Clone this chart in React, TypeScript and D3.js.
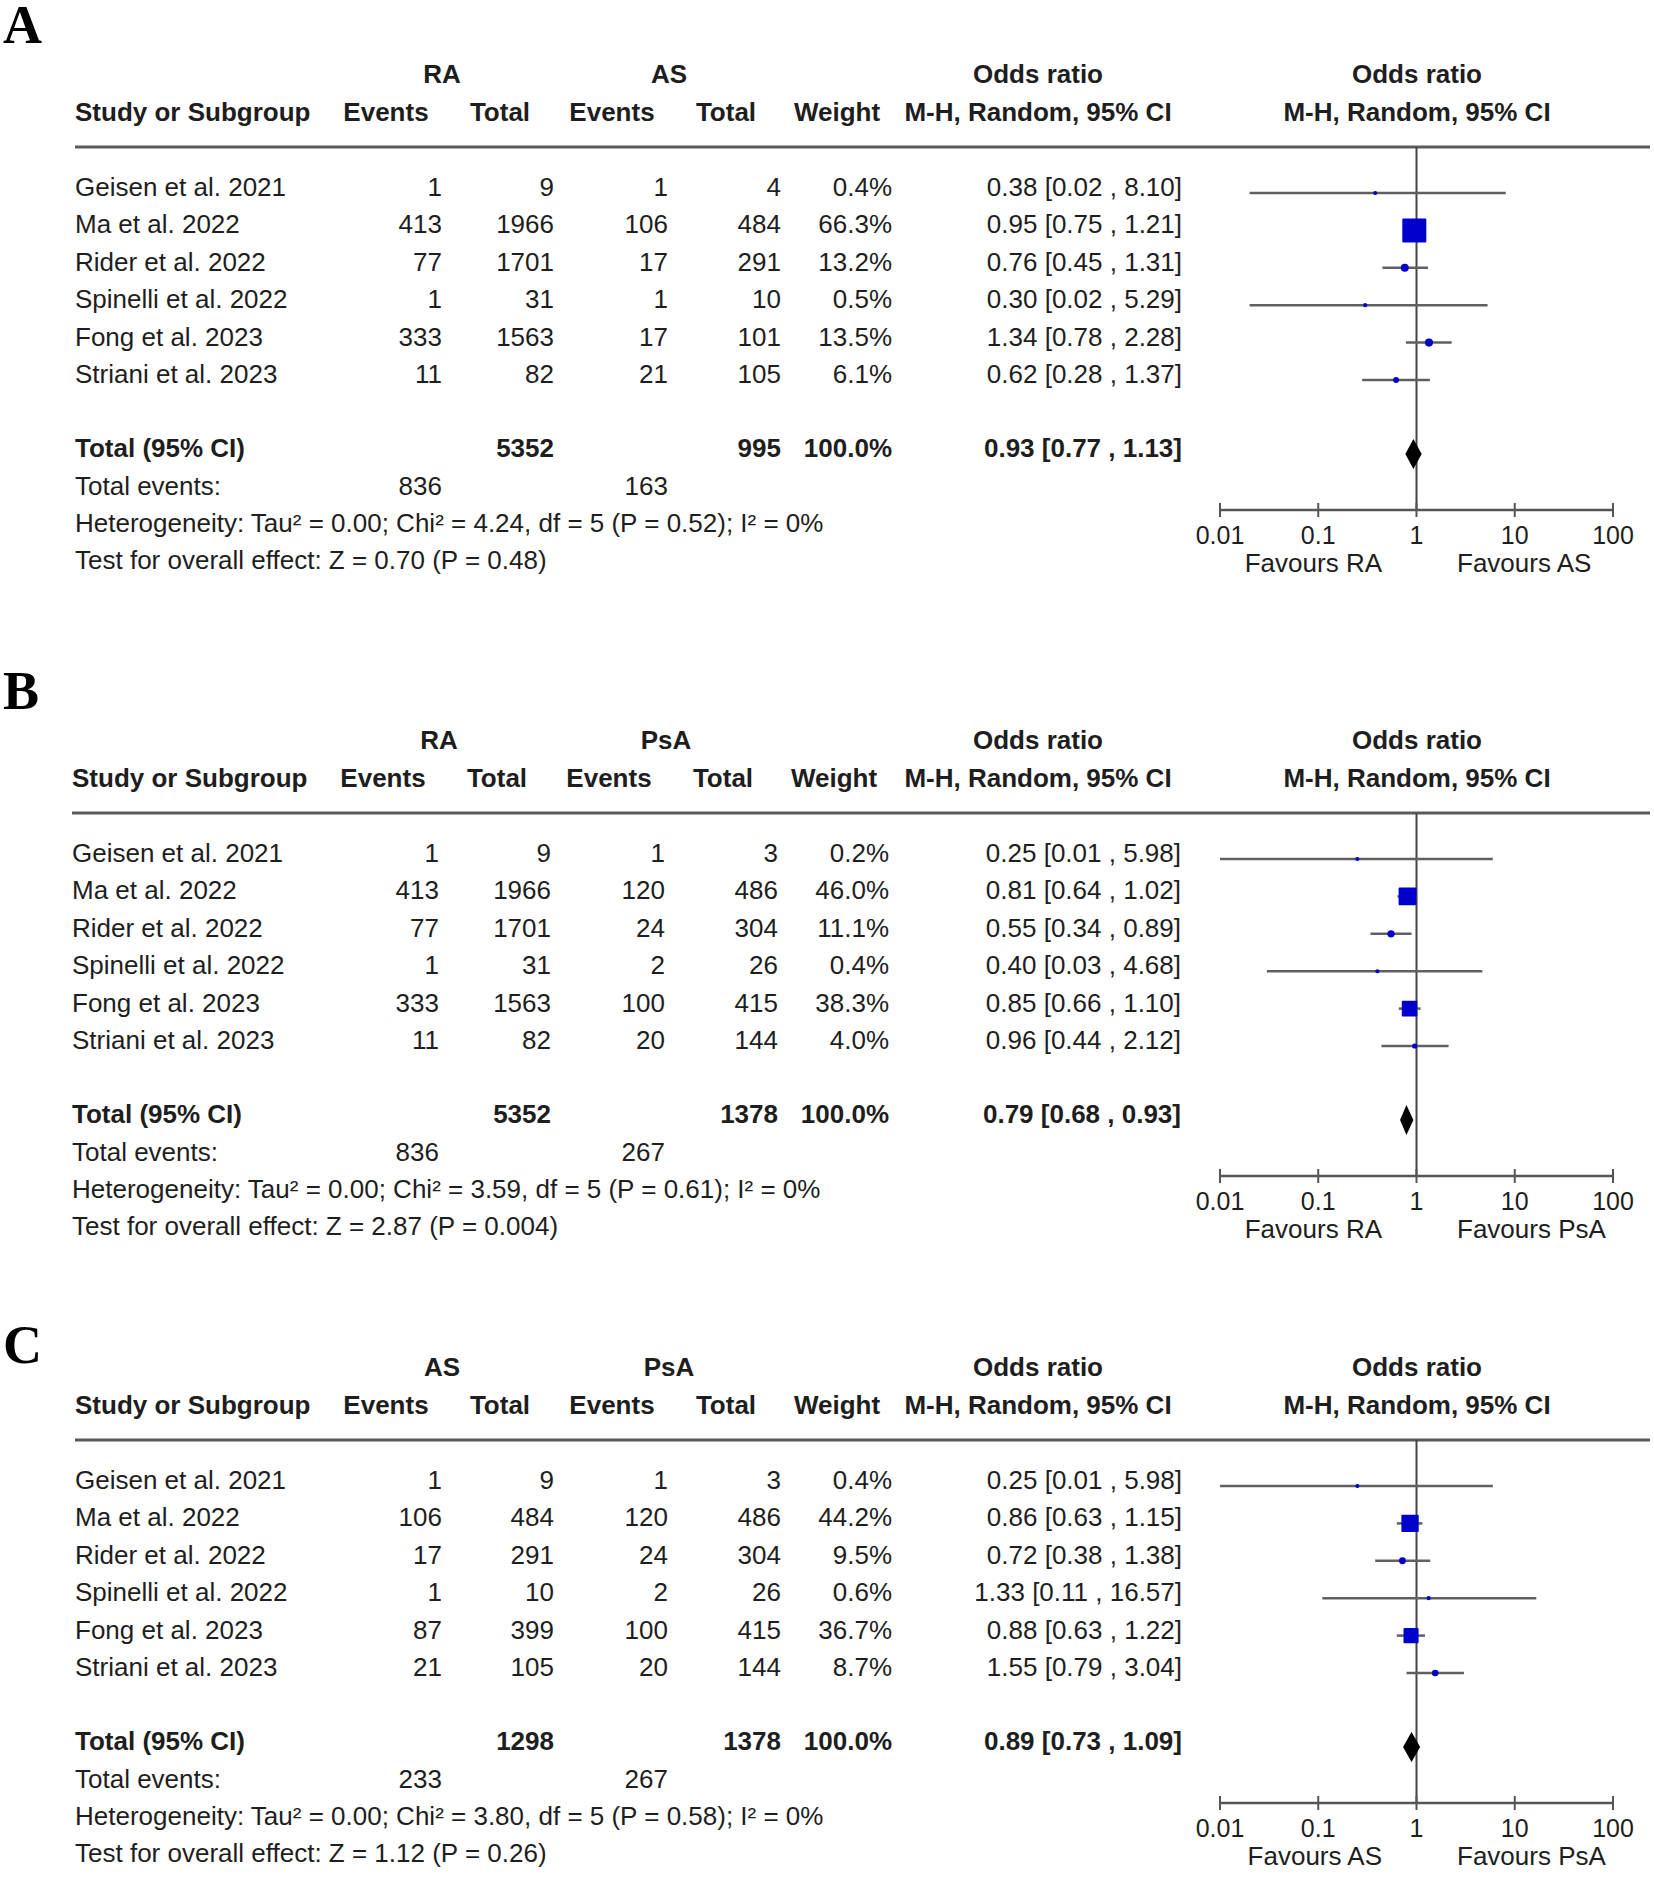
import React from 'react';
import * as d3 from 'd3';

// ---- data ----
const studies = [
  'Geisen et al. 2021',
  'Ma et al. 2022',
  'Rider et al. 2022',
  'Spinelli et al. 2022',
  'Fong et al. 2023',
  'Striani et al. 2023',
];
const panelLabels = ['A', 'B', 'C'];
const groupNames = [['RA', 'AS'], ['RA', 'PsA'], ['AS', 'PsA']];

// Panel A: RA vs AS
const eventsA1 = [1, 413, 77, 1, 333, 11];
const totalA1 = [9, 1966, 1701, 31, 1563, 82];
const eventsA2 = [1, 106, 17, 1, 17, 21];
const totalA2 = [4, 484, 291, 10, 101, 105];
const weightA = [0.4, 66.3, 13.2, 0.5, 13.5, 6.1];
const orA = [0.38, 0.95, 0.76, 0.3, 1.34, 0.62];
const lowA = [0.02, 0.75, 0.45, 0.02, 0.78, 0.28];
const highA = [8.1, 1.21, 1.31, 5.29, 2.28, 1.37];

// Panel B: RA vs PsA
const eventsB1 = [1, 413, 77, 1, 333, 11];
const totalB1 = [9, 1966, 1701, 31, 1563, 82];
const eventsB2 = [1, 120, 24, 2, 100, 20];
const totalB2 = [3, 486, 304, 26, 415, 144];
const weightB = [0.2, 46.0, 11.1, 0.4, 38.3, 4.0];
const orB = [0.25, 0.81, 0.55, 0.4, 0.85, 0.96];
const lowB = [0.01, 0.64, 0.34, 0.03, 0.66, 0.44];
const highB = [5.98, 1.02, 0.89, 4.68, 1.1, 2.12];

// Panel C: AS vs PsA
const eventsC1 = [1, 106, 17, 1, 87, 21];
const totalC1 = [9, 484, 291, 10, 399, 105];
const eventsC2 = [1, 120, 24, 2, 100, 20];
const totalC2 = [3, 486, 304, 26, 415, 144];
const weightC = [0.4, 44.2, 9.5, 0.6, 36.7, 8.7];
const orC = [0.25, 0.86, 0.72, 1.33, 0.88, 1.55];
const lowC = [0.01, 0.63, 0.38, 0.11, 0.63, 0.79];
const highC = [5.98, 1.15, 1.38, 16.57, 1.22, 3.04];

// pooled results per panel (A, B, C)
const pooledN1 = [5352, 5352, 1298];
const pooledN2 = [995, 1378, 1378];
const pooledEvents1 = [836, 836, 233];
const pooledEvents2 = [163, 267, 267];
const pooledOR = [0.93, 0.79, 0.89];
const pooledLow = [0.77, 0.68, 0.73];
const pooledHigh = [1.13, 0.93, 1.09];
const tau2 = [0.0, 0.0, 0.0];
const chi2 = [4.24, 3.59, 3.8];
const dfs = [5, 5, 5];
const pHet = ['0.52', '0.61', '0.58'];
const i2 = [0, 0, 0];
const zVals = [0.7, 2.87, 1.12];
const pZ = ['0.48', '0.004', '0.26'];

const axisTicks = [0.01, 0.1, 1, 10, 100];
const axisTickLabels = ['0.01', '0.1', '1', '10', '100'];

// ---- layout ----
const W = 1654;
const H = 1880;
const panelTop = [0, 666, 1293];
const panelLetterY = [43, 709, 1363];
const panelDx = [0, -3, 0];
const FONT = '"Liberation Sans", Arial, Helvetica, sans-serif';
const TXT = '#1e1e1e';
const BLUE = '#0000cc';

const x = d3.scaleLog().domain([0.01, 100]).range([1220, 1613]);

const fmt2 = (v: number) => v.toFixed(2);
const ciText = (o: number, l: number, h: number) => `${fmt2(o)} [${fmt2(l)} , ${fmt2(h)}]`;

const panels = [
  { e1: eventsA1, n1: totalA1, e2: eventsA2, n2: totalA2, w: weightA, or: orA, lo: lowA, hi: highA },
  { e1: eventsB1, n1: totalB1, e2: eventsB2, n2: totalB2, w: weightB, or: orB, lo: lowB, hi: highB },
  { e1: eventsC1, n1: totalC1, e2: eventsC2, n2: totalC2, w: weightC, or: orC, lo: lowC, hi: highC },
];

const rowY = d3.scaleLinear().domain([0, 5]).range([196, 383]);
const markSize = d3.scaleLinear().domain([0, 66.3]).range([4, 24]);

const Panel: React.FC<{ k: number }> = ({ k }) => {
  const p = panels[k];
  const dx = panelDx[k];
  const cols = {
    study: 75 + dx,
    e1: 442 + dx,
    n1: 554 + dx,
    e2: 668 + dx,
    n2: 781 + dx,
    w: 892 + dx,
    ci: 1182 + (dx ? -1 : 0),
  };
  const axisY = 510;
  const totalY = 457;
  const markOff = -3;
  const txt = { fontFamily: FONT, fontSize: 26, fill: TXT } as const;
  const bold = { ...txt, fontWeight: 700 } as const;

  return (
    <g transform={`translate(0,${panelTop[k]})`}>
      {/* column headers */}
      <text {...bold} x={cols.e1} y={83} textAnchor="middle">{groupNames[k][0]}</text>
      <text {...bold} x={cols.e2 + 1} y={83} textAnchor="middle">{groupNames[k][1]}</text>
      <text {...bold} x={1038} y={83} textAnchor="middle">Odds ratio</text>
      <text {...bold} x={1417} y={83} textAnchor="middle">Odds ratio</text>
      <text {...bold} x={cols.study} y={121}>Study or Subgroup</text>
      <text {...bold} x={386 + dx} y={121} textAnchor="middle">Events</text>
      <text {...bold} x={500 + dx} y={121} textAnchor="middle">Total</text>
      <text {...bold} x={612 + dx} y={121} textAnchor="middle">Events</text>
      <text {...bold} x={726 + dx} y={121} textAnchor="middle">Total</text>
      <text {...bold} x={837 + dx} y={121} textAnchor="middle">Weight</text>
      <text {...bold} x={1038} y={121} textAnchor="middle">M-H, Random, 95% CI</text>
      <text {...bold} x={1417} y={121} textAnchor="middle">M-H, Random, 95% CI</text>

      <line x1={cols.study} x2={1650} y1={147} y2={147} stroke="#5a5a5a" strokeWidth={3} />
      <line x1={x(1)} x2={x(1)} y1={147} y2={axisY} stroke="#444" strokeWidth={2} />

      {/* study rows */}
      {studies.map((s, i) => {
        const y = rowY(i);
        const size = markSize(p.w[i]);
        return (
          <g key={s}>
            <text {...txt} x={cols.study} y={y}>{s}</text>
            <text {...txt} x={cols.e1} y={y} textAnchor="end">{p.e1[i]}</text>
            <text {...txt} x={cols.n1} y={y} textAnchor="end">{p.n1[i]}</text>
            <text {...txt} x={cols.e2} y={y} textAnchor="end">{p.e2[i]}</text>
            <text {...txt} x={cols.n2} y={y} textAnchor="end">{p.n2[i]}</text>
            <text {...txt} x={cols.w} y={y} textAnchor="end">{p.w[i].toFixed(1)}%</text>
            <text {...txt} x={cols.ci} y={y} textAnchor="end">{ciText(p.or[i], p.lo[i], p.hi[i])}</text>
            <line
              x1={x(p.lo[i])} x2={x(p.hi[i])} y1={y + markOff} y2={y + markOff}
              stroke="#606060" strokeWidth={2.5}
            />
            <rect
              x={x(p.or[i]) - size / 2}
              y={y + markOff - size / 2}
              width={size}
              height={size}
              rx={size < 10 ? size / 2 : 1}
              fill={BLUE}
            />
          </g>
        );
      })}

      {/* totals */}
      <text {...bold} x={cols.study} y={totalY}>Total (95% CI)</text>
      <text {...bold} x={cols.n1} y={totalY} textAnchor="end">{pooledN1[k]}</text>
      <text {...bold} x={cols.n2} y={totalY} textAnchor="end">{pooledN2[k]}</text>
      <text {...bold} x={cols.w} y={totalY} textAnchor="end">100.0%</text>
      <text {...bold} x={cols.ci} y={totalY} textAnchor="end">
        {ciText(pooledOR[k], pooledLow[k], pooledHigh[k])}
      </text>
      <path
        d={`M${x(pooledLow[k])},${totalY + markOff} L${x(pooledOR[k])},${totalY + markOff - 15} L${x(pooledHigh[k])},${totalY + markOff} L${x(pooledOR[k])},${totalY + markOff + 15} Z`}
        fill="#000"
      />
      <text {...txt} x={cols.study} y={495}>Total events:</text>
      <text {...txt} x={cols.e1} y={495} textAnchor="end">{pooledEvents1[k]}</text>
      <text {...txt} x={cols.e2} y={495} textAnchor="end">{pooledEvents2[k]}</text>
      <text {...txt} x={cols.study} y={532}>
        {`Heterogeneity: Tau² = ${tau2[k].toFixed(2)}; Chi² = ${chi2[k].toFixed(2)}, df = ${dfs[k]} (P = ${pHet[k]}); I² = ${i2[k]}%`}
      </text>
      <text {...txt} x={cols.study} y={569}>
        {`Test for overall effect: Z = ${zVals[k].toFixed(2)} (P = ${pZ[k]})`}
      </text>

      {/* axis */}
      <line x1={x(0.01)} x2={x(100)} y1={axisY} y2={axisY} stroke="#555" strokeWidth={2.5} />
      {axisTicks.map((t, i) => (
        <g key={t}>
          <line x1={x(t)} x2={x(t)} y1={axisY - 7} y2={axisY + 7} stroke="#555" strokeWidth={2} />
          <text {...txt} fontSize={25} x={x(t)} y={544} textAnchor="middle">{axisTickLabels[i]}</text>
        </g>
      ))}
      <text {...txt} x={1382} y={572} textAnchor="end">Favours {groupNames[k][0]}</text>
      <text {...txt} x={1457} y={572}>Favours {groupNames[k][1]}</text>

      <text
        x={3}
        y={panelLetterY[k] - panelTop[k]}
        fontFamily='"Liberation Serif", "Times New Roman", serif'
        fontWeight={700}
        fontSize={54}
        fill="#000"
      >
        {panelLabels[k]}
      </text>
    </g>
  );
};

const App: React.FC = () => (
  <div style={{ position: 'absolute', left: 0, top: 0, background: '#fff' }}>
    <svg width={W} height={H} viewBox={`0 0 ${W} ${H}`} style={{ display: 'block' }}>
      <rect width={W} height={H} fill="#fff" />
      {[0, 1, 2].map(k => <Panel key={k} k={k} />)}
    </svg>
  </div>
);

export default App;
